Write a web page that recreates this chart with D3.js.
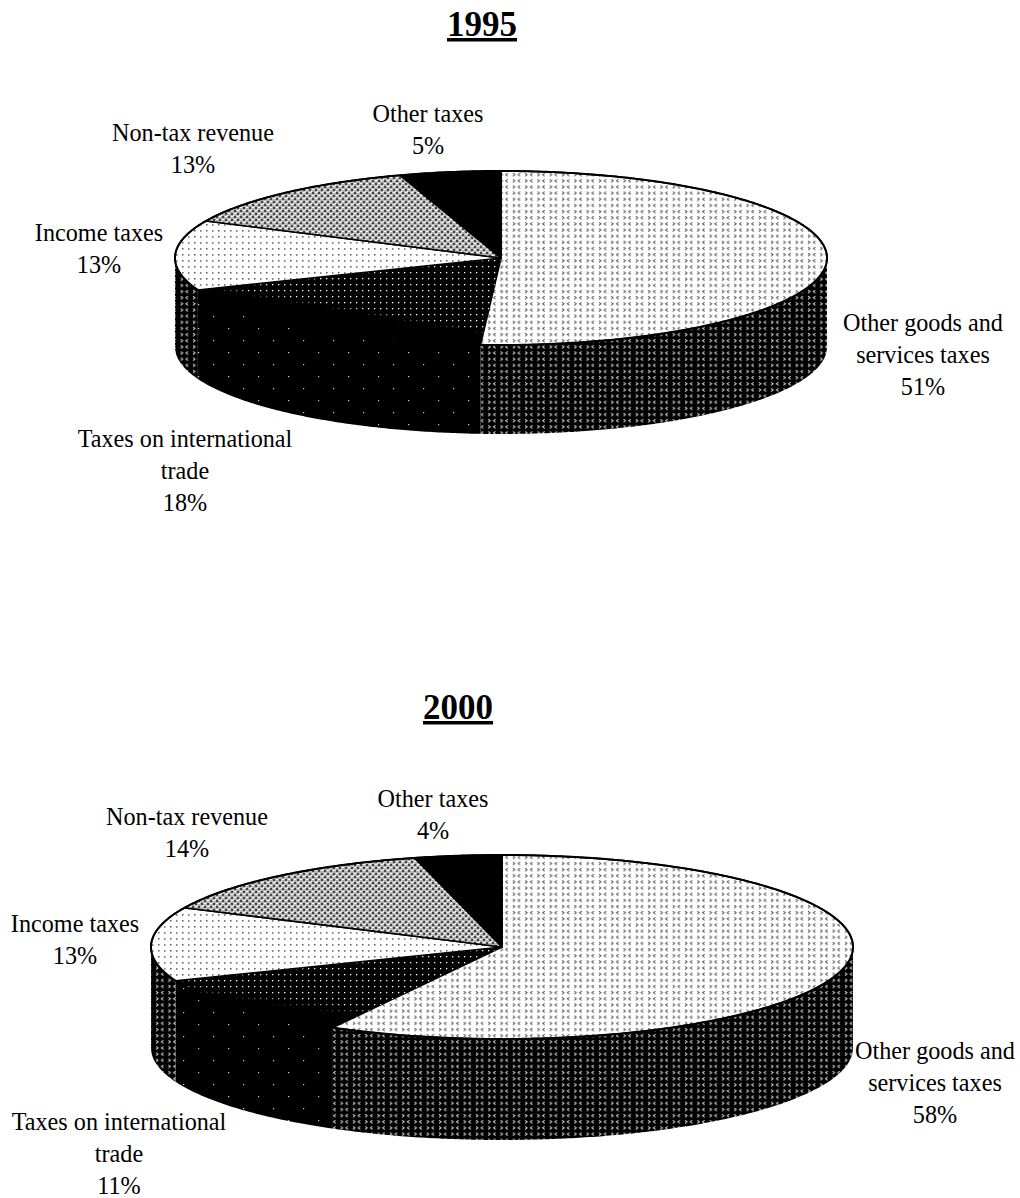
<!DOCTYPE html>
<html>
<head>
<meta charset="utf-8">
<script src="https://cdn.jsdelivr.net/npm/d3@7"></script>
<style>
  html, body { margin: 0; padding: 0; background: #fff; }
  svg { display: block; }
  text { font-family: "Liberation Serif", "Times New Roman", serif; fill: #000; }
</style>
</head>
<body>
<div id="chart"></div>
<script>
// Government revenue composition, share of total (%)
const categories = ["Other goods and services taxes", "Taxes on international trade", "Income taxes", "Non-tax revenue", "Other taxes"];
const values1995 = [51, 18, 13, 13, 5];
const values2000 = [58, 11, 13, 14, 4];
const labelLines = [["Other goods and", "services taxes"], ["Taxes on international", "trade"], ["Income taxes"], ["Non-tax revenue"], ["Other taxes"]];

const W = 1020, H = 1198;
const LINE_HEIGHT = 32;

const svg = d3.select("#chart").append("svg").attr("width", W).attr("height", H);
const defs = svg.append("defs");

// Halftone fills, one tile per printed shade
function tile(id, w, h, bg, draw) {
  const p = defs.append("pattern").attr("id", id).attr("patternUnits", "userSpaceOnUse")
    .attr("width", w).attr("height", h);
  p.append("rect").attr("width", w).attr("height", h).attr("fill", bg);
  draw(p);
}
function chevrons(p, color, o) {
  p.append("path").attr("fill", "none").attr("stroke", color).attr("stroke-width", 1).attr("opacity", o)
    .attr("d", "M3.5 1 L1.5 2.5 L3.5 4 M8.5 1 L10.5 2.5 L8.5 4");
}
tile("lightDots", 12.3, 6.15, "#fff", p => chevrons(p, "#333", 0.85));
tile("darkDots", 12.3, 6.15, "#000", p => chevrons(p, "#fff", 0.85));
tile("sparseOnWhite", 12, 6, "#fff", p => {
  p.append("rect").attr("x", 2).attr("y", 2).attr("width", 1.5).attr("height", 1.5).attr("fill", "#555");
  p.append("rect").attr("x", 8).attr("y", 2).attr("width", 1.5).attr("height", 2).attr("fill", "#888");
});
tile("sparseOnBlack", 6, 6, "#000", p => {
  p.append("rect").attr("x", 2).attr("y", 2).attr("width", 1.3).attr("height", 1.3).attr("fill", "#fff");
});
tile("speckOnBlack", 30, 24, "#000", p => {
  p.append("rect").attr("x", 3).attr("y", 4).attr("width", 1.2).attr("height", 1.2).attr("fill", "#ccc");
  p.append("rect").attr("x", 18).attr("y", 16).attr("width", 1.2).attr("height", 1.2).attr("fill", "#ccc");
});
tile("grayDither", 6, 6, "#b4b4b4", p => {
  p.append("path").attr("fill", "#444").attr("d", "M0 0h2v2h-2z M3 3h2v2h-2z");
  p.append("path").attr("fill", "#fff").attr("d", "M3 0h2v1h-2z M0 3h2v1h-2z M5 5h1v1h-1z");
});

// The dotted part of the dark top slice gives way to solid black towards the front
function frontFade(id, from, to) {
  const fade = defs.append("linearGradient").attr("id", id)
    .attr("x1", 0.5).attr("y1", 0).attr("x2", 0.1).attr("y2", 0.7);
  fade.append("stop").attr("offset", from).attr("stop-color", "#000").attr("stop-opacity", 0);
  fade.append("stop").attr("offset", to).attr("stop-color", "#000").attr("stop-opacity", 1);
}

const topFill = ["url(#lightDots)", "url(#sparseOnBlack)", "url(#sparseOnWhite)", "url(#grayDither)", "#000"];
const wallFill = ["url(#darkDots)", "url(#speckOnBlack)", "url(#darkDots)", "#000", "#000"];

const pie = d3.pie().sort(null).value(d => d);

function drawPie(cfg) {
  const x = d3.scaleLinear().domain([-1, 1]).range([cfg.cx - cfg.rx, cfg.cx + cfg.rx]);
  const y = d3.scaleLinear().domain([-1, 1]).range([cfg.cy + cfg.ry, cfg.cy - cfg.ry]);
  const g = svg.append("g");

  const arcs = pie(cfg.values);
  const steps = (a0, a1) => d3.range(a0, a1, 0.01).concat(a1);

  const wall = d3.area()
    .x(a => x(Math.sin(a)))
    .y0(a => y(Math.cos(a)))
    .y1(a => y(Math.cos(a)) + cfg.depth);

  // Only the near half of the cylinder shows: angles between PI/2 and 3PI/2
  arcs.forEach((d, i) => {
    const a0 = Math.max(d.startAngle, Math.PI / 2);
    const a1 = Math.min(d.endAngle, 3 * Math.PI / 2);
    if (a1 <= a0) return;
    g.append("path").attr("d", wall(steps(a0, a1))).attr("fill", wallFill[i]);
  });

  const fadeId = "frontFade" + cfg.title;
  frontFade(fadeId, cfg.fade[0], cfg.fade[1]);

  const outline = d3.line().x(p => p[0]).y(p => p[1]);
  arcs.forEach((d, i) => {
    const rim = steps(d.startAngle, d.endAngle).map(a => [x(Math.sin(a)), y(Math.cos(a))]);
    const pts = [[x(0), y(0)], ...rim];
    const shape = outline(pts) + "Z";
    g.append("path").attr("d", shape).attr("fill", topFill[i])
      .attr("stroke", "#000").attr("stroke-width", i === 1 ? 0 : 1.6).attr("stroke-linejoin", "round");
    if (i === 1) g.append("path").attr("d", shape).attr("fill", `url(#${fadeId})`);
  });

  // Rim of the cylinder
  g.append("path").attr("fill", "none").attr("stroke", "#000").attr("stroke-width", 2)
    .attr("d", outline(steps(0, 2 * Math.PI).map(a => [x(Math.sin(a)), y(Math.cos(a))])));

  svg.append("text").attr("x", cfg.titleX).attr("y", cfg.titleY)
    .attr("text-anchor", "middle").attr("font-size", 35).attr("font-weight", 700)
    .attr("text-decoration", "underline").text(cfg.title);

  categories.forEach((c, i) => {
    const lines = labelLines[i].concat(cfg.values[i] + "%");
    const t = svg.append("text").attr("text-anchor", "middle").attr("font-size", cfg.fontSize);
    lines.forEach((s, k) => {
      t.append("tspan").attr("x", cfg.labels[i][0]).attr("y", cfg.labels[i][1] + k * LINE_HEIGHT).text(s);
    });
  });
}

drawPie({
  title: "1995", titleX: 482, titleY: 36, values: values1995, fontSize: 24.2, fade: [0.6, 0.68],
  cx: 501, cy: 258, rx: 326, ry: 87, depth: 89,
  labels: [[923, 331], [185, 447], [99, 241], [193, 141], [428, 122]]
});
drawPie({
  title: "2000", titleX: 458, titleY: 719, values: values2000, fontSize: 24.2, fade: [0.76, 0.9],
  cx: 502, cy: 947, rx: 351, ry: 92, depth: 101,
  labels: [[935, 1059], [119, 1130], [75, 932], [187, 825], [433, 807]]
});
</script>
</body>
</html>
